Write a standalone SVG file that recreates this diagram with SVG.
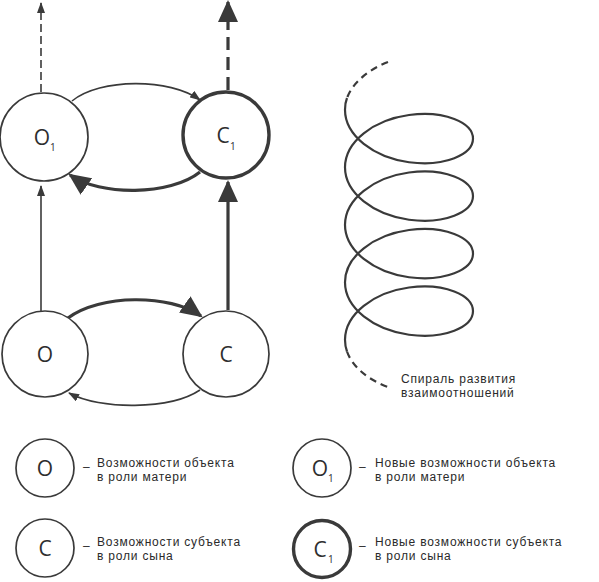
<svg xmlns="http://www.w3.org/2000/svg" width="599" height="582" viewBox="0 0 599 582">
<style>
.thin{fill:none;stroke:#3a3a3a;stroke-width:1.6}
.thick{fill:none;stroke:#3a3a3a;stroke-width:3.2}
.node{fill:#fff;stroke:#3a3a3a;stroke-width:1.7}
.nodeb{fill:#fff;stroke:#3a3a3a;stroke-width:3.4}
.lbl{font-family:"Open Sans","Noto Sans",sans-serif;font-size:21px;fill:#2e2e2e;text-anchor:middle}
.sub{font-family:"Open Sans","Noto Sans",sans-serif;font-size:10px;fill:#2e2e2e}
.txt{font-family:"Liberation Sans","DejaVu Sans",sans-serif;font-size:12px;letter-spacing:0.8px;fill:#2a2a2a}
.spiral{fill:none;stroke:#3a3a3a;stroke-width:2.2}
</style>
<defs>
<marker id="sm" viewBox="0 0 11 8" markerWidth="11" markerHeight="8" refX="10" refY="4" orient="auto" markerUnits="userSpaceOnUse"><path d="M0,0 L11,4 L0,8 Z" fill="#3a3a3a"/></marker>
<marker id="lg" viewBox="0 0 22 20" markerWidth="22" markerHeight="20" refX="20" refY="10" orient="auto" markerUnits="userSpaceOnUse"><path d="M0,0 L22,10 L0,20 Z" fill="#3a3a3a"/></marker>
</defs>
<rect width="599" height="582" fill="#fff"/>
<g id="connectors">
<path class="thin" d="M41,92 L41,3" stroke-dasharray="8 4" marker-end="url(#sm)"/>
<path class="thick" d="M228,90 L228,2" stroke-dasharray="13 7" marker-end="url(#lg)"/>
<path class="thin" d="M41,312 L41,186" marker-end="url(#sm)"/>
<path class="thick" d="M228,310 L228,182" marker-end="url(#lg)"/>
<path class="thin" d="M72,101 C100,78 170,78 200,100" marker-end="url(#sm)"/>
<path class="thick" d="M200,172 C170,196 100,196 70,175" marker-end="url(#lg)"/>
<path class="thick" d="M68,318 C100,294 170,294 201,316" marker-end="url(#lg)"/>
<path class="thin" d="M200,390 C170,410 100,410 69,393" marker-end="url(#sm)"/>
</g>
<g id="node-O1"><circle class="node" cx="44" cy="137" r="44"/><text class="lbl" x="42" y="145">О</text><text class="sub" x="50" y="151">1</text></g>
<g id="node-C1"><circle class="nodeb" cx="226" cy="135" r="43"/><text class="lbl" x="223" y="143">С</text><text class="sub" x="230" y="150">1</text></g>
<g id="node-O"><circle class="node" cx="45" cy="354" r="43"/><text class="lbl" x="45" y="362">О</text></g>
<g id="node-C"><circle class="node" cx="226" cy="354" r="43"/><text class="lbl" x="226" y="362">С</text></g>
<g id="spiral">
<path class="spiral" d="M347,98 Q345,103 345,109.85 C345,135.64 373.65,157.43 409,162.22 C444.35,167.01 473,154.81 473,138.6 C473,122.39 444.35,110.18 409,114.97 C373.65,119.76 345,141.56 345,167.35 C345,193.14 373.65,214.93 409,219.72 C444.35,224.51 473,212.31 473,196.1 C473,179.89 444.35,167.68 409,172.47 C373.65,177.26 345,199.06 345,224.85 C345,250.64 373.65,272.43 409,277.22 C444.35,282.01 473,269.81 473,253.6 C473,237.39 444.35,225.18 409,229.97 C373.65,234.76 345,256.56 345,282.35 C345,308.14 373.65,329.93 409,334.72 C444.35,339.51 473,327.31 473,311.1 C473,294.89 444.35,282.68 409,287.47 C373.65,292.26 345,314.06 345,339.85 Q345,346 347,351.5"/>
<path class="spiral" d="M388,62 C368.2,69.7 352.4,83 347,98" stroke-dasharray="7 5"/>
<path class="spiral" d="M347,351.5 C352.2,366.6 368.2,379.9 388,387" stroke-dasharray="7 5"/>
<text class="txt" x="401" y="383">Спираль развития</text>
<text class="txt" x="401" y="397">взаимоотношений</text>
</g>
<g id="legend-O"><circle class="node" cx="45" cy="468" r="29"/><text class="lbl" x="45" y="476">О</text><text class="txt" x="83" y="471">–</text><text class="txt" x="97" y="467">Возможности объекта</text><text class="txt" x="97" y="481">в роли матери</text></g>
<g id="legend-C"><circle class="node" cx="45" cy="548" r="29"/><text class="lbl" x="45" y="556">С</text><text class="txt" x="83" y="550">–</text><text class="txt" x="97" y="546">Возможности субъекта</text><text class="txt" x="97" y="560">в роли сына</text></g>
<g id="legend-O1"><circle class="node" cx="322" cy="468" r="29"/><text class="lbl" x="320" y="476">О</text><text class="sub" x="328" y="482">1</text><text class="txt" x="359" y="471">–</text><text class="txt" x="375" y="467">Новые возможности объекта</text><text class="txt" x="375" y="481">в роли матери</text></g>
<g id="legend-C1"><circle class="nodeb" cx="322" cy="549" r="28.5"/><text class="lbl" x="320" y="557">С</text><text class="sub" x="328" y="563">1</text><text class="txt" x="359" y="550">–</text><text class="txt" x="375" y="546">Новые возможности субъекта</text><text class="txt" x="375" y="560">в роли сына</text></g>
</svg>
